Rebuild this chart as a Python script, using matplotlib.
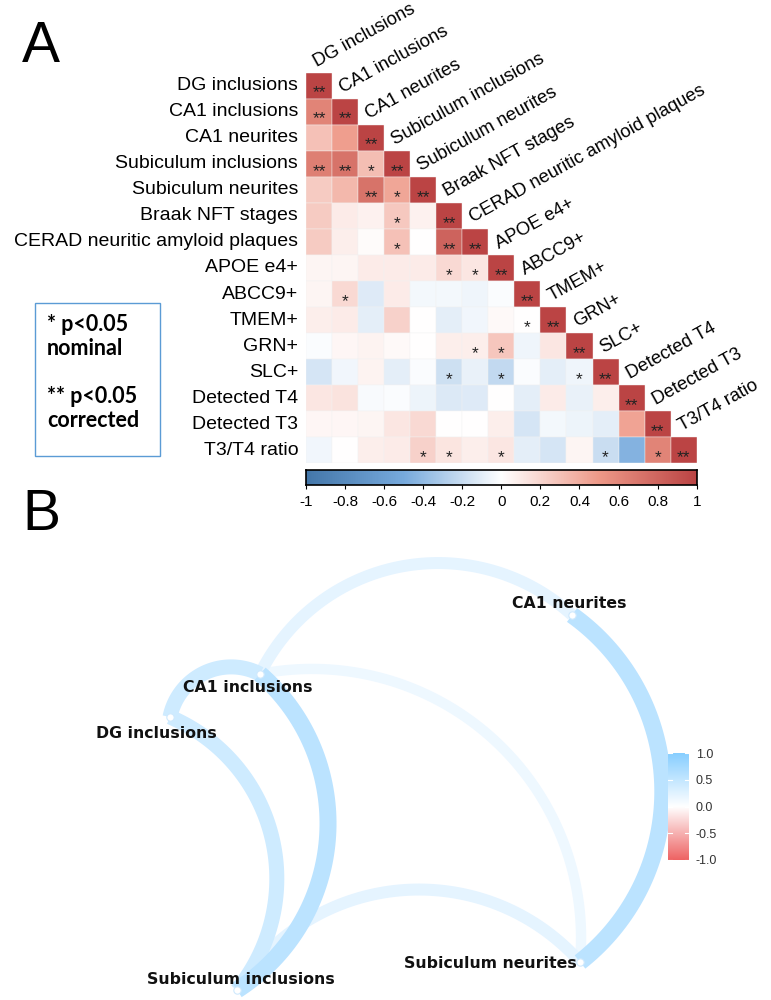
import numpy as np
import matplotlib
matplotlib.use("Agg")
import matplotlib.pyplot as plt
from matplotlib.colors import LinearSegmentedColormap, Normalize
from matplotlib.patches import Rectangle

# ---- data: panel A (lower triangle of correlation matrix) ----
variables = ["DG inclusions", "CA1 inclusions", "CA1 neurites", "Subiculum inclusions",
             "Subiculum neurites", "Braak NFT stages", "CERAD neuritic amyloid plaques",
             "APOE e4+", "ABCC9+", "TMEM+", "GRN+", "SLC+", "Detected T4",
             "Detected T3", "T3/T4 ratio"]

corr_rows = [
    [1],
    [0.62, 1],
    [0.30, 0.47, 1],
    [0.65, 0.72, 0.32, 1],
    [0.25, 0.35, 0.72, 0.43, 1],
    [0.25, 0.10, 0.07, 0.27, 0.07, 1],
    [0.25, 0.08, 0.02, 0.30, 0.00, 0.82, 1],
    [0.05, 0.05, 0.10, 0.10, 0.10, 0.18, 0.12, 1],
    [0.05, 0.18, -0.12, 0.10, -0.04, -0.04, -0.06, -0.02, 1],
    [0.08, 0.10, -0.10, 0.22, 0.00, -0.10, -0.05, 0.03, 0.00, 1],
    [-0.02, 0.04, 0.06, 0.03, 0.00, 0.08, 0.08, 0.28, -0.06, 0.12, 1],
    [-0.15, -0.05, 0.06, -0.10, -0.02, -0.18, -0.08, -0.22, -0.02, -0.10, -0.06, 1],
    [0.12, 0.14, -0.03, -0.02, -0.07, -0.13, -0.12, 0.00, -0.10, 0.10, -0.08, 0.08, 1],
    [0.04, 0.04, 0.05, 0.12, 0.18, 0.00, 0.00, 0.08, -0.15, -0.04, -0.07, -0.10, 0.45, 1],
    [-0.05, 0.00, 0.08, 0.10, 0.22, 0.13, 0.08, 0.12, -0.10, -0.15, 0.05, -0.20, -0.45, 0.62, 1],
]

sig_rows = [
    ["**"],
    ["**", "**"],
    ["", "", "**"],
    ["**", "**", "*", "**"],
    ["", "", "**", "*", "**"],
    ["", "", "", "*", "", "**"],
    ["", "", "", "*", "", "**", "**"],
    ["", "", "", "", "", "*", "*", "**"],
    ["", "*", "", "", "", "", "", "", "**"],
    ["", "", "", "", "", "", "", "", "*", "**"],
    ["", "", "", "", "", "", "*", "*", "", "", "**"],
    ["", "", "", "", "", "*", "", "*", "", "", "*", "**"],
    ["", "", "", "", "", "", "", "", "", "", "", "", "**"],
    ["", "", "", "", "", "", "", "", "", "", "", "", "", "**"],
    ["", "", "", "", "*", "*", "", "*", "", "", "", "*", "", "*", "**"],
]

cbar_ticks = [-1, -0.8, -0.6, -0.4, -0.2, 0, 0.2, 0.4, 0.6, 0.8, 1]
legend_text = "* p<0.05\nnominal\n\n** p<0.05\ncorrected"

# ---- data: panel B (network of the hippocampal measures) ----
net_nodes = ["DG inclusions", "CA1 inclusions", "CA1 neurites",
             "Subiculum inclusions", "Subiculum neurites"]
net_x = [1.70, 2.60, 5.72, 2.37, 5.80]   # layout coordinates
net_y = [2.83, 3.26, 3.85, 0.10, 0.38]
edge_from = [0, 0, 1, 1, 1, 2, 3]
edge_to = [1, 3, 2, 3, 4, 4, 4]
edge_r = [0.55, 0.55, 0.40, 0.65, 0.32, 0.65, 0.40]
net_ticks = [-1.0, -0.5, 0.0, 0.5, 1.0]

n = len(variables)

fig = plt.figure(figsize=(7.71, 10), dpi=100)
W, H = 771, 1000

def fig_rect(x0, y0, x1, y1):
    return [x0 / W, 1 - y1 / H, (x1 - x0) / W, (y1 - y0) / H]

cmap = LinearSegmentedColormap.from_list(
    "corrplot", ["#4477AA", "#77AADD", "#FFFFFF", "#EE9988", "#BB4444"])
norm = Normalize(-1, 1)

ax = fig.add_axes(fig_rect(306, 72.7, 696.7, 463.3))
for i, row in enumerate(corr_rows):
    for j, v in enumerate(row):
        ax.add_patch(Rectangle((j, i), 1, 1, facecolor=cmap(norm(v)),
                               edgecolor="#f2f2f2", linewidth=0.3))
ax.set_xlim(0, n)
ax.set_ylim(n, 0)
ax.axis("off")

label_font = ["Liberation Sans", "DejaVu Sans"]
for i, name in enumerate(variables):
    ax.text(-0.3, i + 0.5, name, ha="right", va="center", fontsize=14,
            family=label_font)
    ax.text(i + 0.5, i - 0.1, name, ha="left", va="bottom", rotation=29,
            rotation_mode="anchor", fontsize=13.2, family=label_font)
    for j, s in enumerate(sig_rows[i]):
        if s:
            ax.text(j + 0.5, i + 0.78, s, ha="center", va="center",
                    fontsize=12.5, color="#222222", family=label_font)

cax = fig.add_axes(fig_rect(306, 470, 696.7, 485))
grad = np.linspace(-1, 1, 256)[None, :]
cax.imshow(grad, cmap=cmap, aspect="auto", extent=[-1, 1, 0, 1])
cax.set_yticks([])
cax.set_xticks(cbar_ticks)
cax.set_xticklabels([f"{t:g}" for t in cbar_ticks], fontsize=11, family=label_font)
cax.tick_params(axis="x", length=3, width=0.8, pad=4)
for sp in cax.spines.values():
    sp.set_linewidth(1.2)

fig.text(22 / W, 1 - 62 / H, "A", fontsize=41, family=label_font, va="baseline")
fig.text(22 / W, 1 - 530 / H, "B", fontsize=41, family=label_font, va="baseline")

# legend box
fig.patches.append(Rectangle((35 / W, 1 - 456 / H), 125 / W, 153 / H,
                             transform=fig.transFigure, facecolor="none",
                             edgecolor="#5B9BD5", linewidth=1.0))
fig.text(47 / W, 1 - 314 / H, legend_text, fontsize=15.5, fontweight="bold",
         family=["Lato", "DejaVu Sans"], va="top", linespacing=1.18)

# ---- panel B ----
nax = fig.add_axes([0, 0, 1, 0.45])
nax.set_xlim(0, 7.71)
nax.set_ylim(0, 4.5)
nax.axis("off")

sky = np.array([0x87, 0xCE, 0xFF]) / 255
red = np.array([0xEE, 0x63, 0x63]) / 255
white = np.ones(3)
bend = 0.25
for k in np.argsort(edge_r):
    a, b, r = edge_from[k], edge_to[k], edge_r[k]
    p0 = np.array([net_x[a], net_y[a]])
    p1 = np.array([net_x[b], net_y[b]])
    d = p1 - p0
    L = np.hypot(*d)
    u = d / L
    nrm = np.array([-u[1], u[0]])
    s = bend * L
    R = (L * L / 4 + s * s) / (2 * s)
    centre = (p0 + p1) / 2 - nrm * (R - s)
    a0 = np.arctan2(*(p0 - centre)[::-1])
    a1 = np.arctan2(*(p1 - centre)[::-1])
    if a1 > a0:
        a1 -= 2 * np.pi
    ang = np.linspace(a0, a1, 80)
    base = white + (sky - white) * r
    col = white + (base - white) * min(1.0, 1.35 * r)
    nax.plot(centre[0] + R * np.cos(ang), centre[1] + R * np.sin(ang),
             color=col, linewidth=(4 + 20 * r) * 0.72, solid_capstyle="butt")

nax.scatter(net_x, net_y, s=28, facecolor="white", edgecolor="#cfe9fd",
            linewidth=0.8, zorder=3)

label_dx = [-0.14, -0.12, -0.03, 0.04, -0.90]
label_dy = [-0.16, -0.14, 0.12, 0.10, -0.02]
for i, name in enumerate(net_nodes):
    nax.text(net_x[i] + label_dx[i], net_y[i] + label_dy[i], name,
             ha="center", va="center", fontsize=11.3, fontweight="bold",
             family=["DejaVu Sans"], color="#111111", zorder=4)

ncax = fig.add_axes(fig_rect(668, 753, 689, 860))
ncmap = LinearSegmentedColormap.from_list("net", [red, white, sky])
ncax.imshow(np.linspace(-1, 1, 256)[:, None], cmap=ncmap, aspect="auto",
            extent=[0, 1, -1, 1], origin="lower")
ncax.set_xticks([])
ncax.yaxis.tick_right()
ncax.set_yticks(net_ticks)
ncax.set_yticklabels([f"{t:.1f}" for t in net_ticks], fontsize=9,
                     color="#333333", family=label_font)
ncax.tick_params(axis="y", length=0, pad=5)
for t in net_ticks:
    ncax.plot([0, 0.2], [t, t], color="white", lw=0.8)
    ncax.plot([0.8, 1], [t, t], color="white", lw=0.8)
for sp in ncax.spines.values():
    sp.set_visible(False)

fig.savefig("out.png", dpi=100)
